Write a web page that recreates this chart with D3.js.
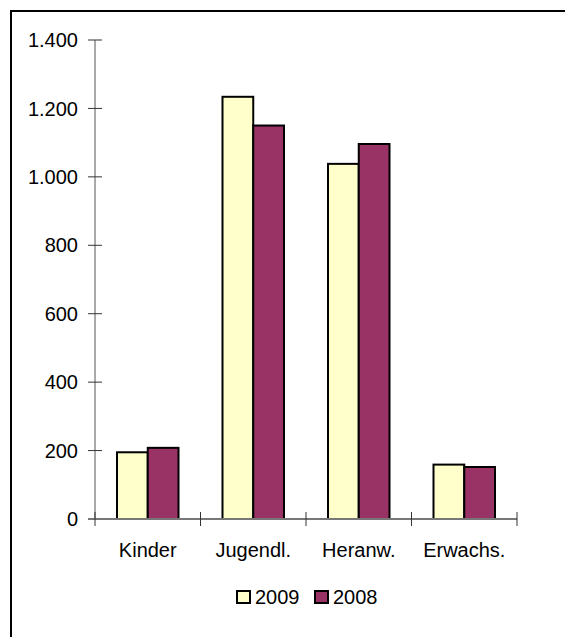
<!DOCTYPE html>
<html>
<head>
<meta charset="utf-8">
<script src="https://cdn.jsdelivr.net/npm/d3@7"></script>
<style>
  body { margin: 0; background: #fff; overflow: hidden; }
  text { font-family: "Liberation Sans", Arial, sans-serif; fill: #000; }
</style>
</head>
<body>
<div id="chart"></div>
<script>
var categories = ["Kinder", "Jugendl.", "Heranw.", "Erwachs."];
var seriesNames = ["2009", "2008"];
var values2009 = [195, 1234, 1038, 159];
var values2008 = [208, 1150, 1096, 152];
var yTicks = [0, 200, 400, 600, 800, 1000, 1200, 1400];
var colors = ["#FFFFCC", "#993366"];

var width = 565, height = 637;
var svg = d3.select("#chart").append("svg")
    .attr("width", width)
    .attr("height", height)
    .style("display", "block");

// outer frame (right and bottom edges run off the page)
svg.append("rect")
    .attr("x", 11).attr("y", 11)
    .attr("width", 600).attr("height", 700)
    .attr("fill", "none")
    .attr("stroke", "#000")
    .attr("stroke-width", 2);

var x0 = d3.scaleBand().domain(categories).range([95, 517]);
var x1 = d3.scaleBand().domain(seriesNames).range([22, x0.bandwidth() - 22]);
var y = d3.scaleLinear().domain([0, 1400]).range([519, 40]);

var fmt = function(d) { return d3.format(",")(d).replace(/,/g, "."); };

// y axis
svg.append("line")
    .attr("x1", 95).attr("x2", 95)
    .attr("y1", y(1400)).attr("y2", y(0))
    .attr("stroke", "#555").attr("stroke-width", 1);
svg.selectAll(".ytick").data(yTicks).enter().append("line")
    .attr("x1", 88).attr("x2", 102)
    .attr("y1", function(d) { return y(d); })
    .attr("y2", function(d) { return y(d); })
    .attr("stroke", "#333");
svg.selectAll(".ylab").data(yTicks).enter().append("text")
    .attr("x", 78)
    .attr("y", function(d) { return y(d); })
    .attr("dy", "0.36em")
    .attr("text-anchor", "end")
    .attr("font-size", 20)
    .text(fmt);

// bars
var series = [values2009, values2008];
series.forEach(function(vals, s) {
    svg.selectAll(".bar" + s).data(vals).enter().append("rect")
        .attr("x", function(d, i) { return x0(categories[i]) + x1(seriesNames[s]); })
        .attr("y", function(d) { return y(d); })
        .attr("width", x1.bandwidth())
        .attr("height", function(d) { return y(0) - y(d); })
        .attr("fill", colors[s])
        .attr("stroke", "#000")
        .attr("stroke-width", 2);
});

// x axis
svg.append("line")
    .attr("x1", 88).attr("x2", 517)
    .attr("y1", y(0)).attr("y2", y(0))
    .attr("stroke", "#777").attr("stroke-width", 2);
var xTickPos = categories.map(function(c) { return x0(c); }).concat([517]);
svg.selectAll(".xtick").data(xTickPos).enter().append("line")
    .attr("x1", function(d) { return d; }).attr("x2", function(d) { return d; })
    .attr("y1", y(0) - 7).attr("y2", y(0) + 7)
    .attr("stroke", "#333");
svg.selectAll(".xlab").data(categories).enter().append("text")
    .attr("x", function(d) { return x0(d) + x0.bandwidth() / 2; })
    .attr("y", 557)
    .attr("text-anchor", "middle")
    .attr("font-size", 20)
    .text(function(d) { return d; });

// legend
var legend = svg.append("g").attr("transform", "translate(237,591)");
var legX = [0, 78];
seriesNames.forEach(function(n, i) {
    legend.append("rect")
        .attr("x", legX[i]).attr("y", 0)
        .attr("width", 13).attr("height", 12)
        .attr("fill", colors[i])
        .attr("stroke", "#000").attr("stroke-width", 2);
    legend.append("text")
        .attr("x", legX[i] + 18).attr("y", 13)
        .attr("font-size", 20)
        .text(n);
});
</script>
</body>
</html>
